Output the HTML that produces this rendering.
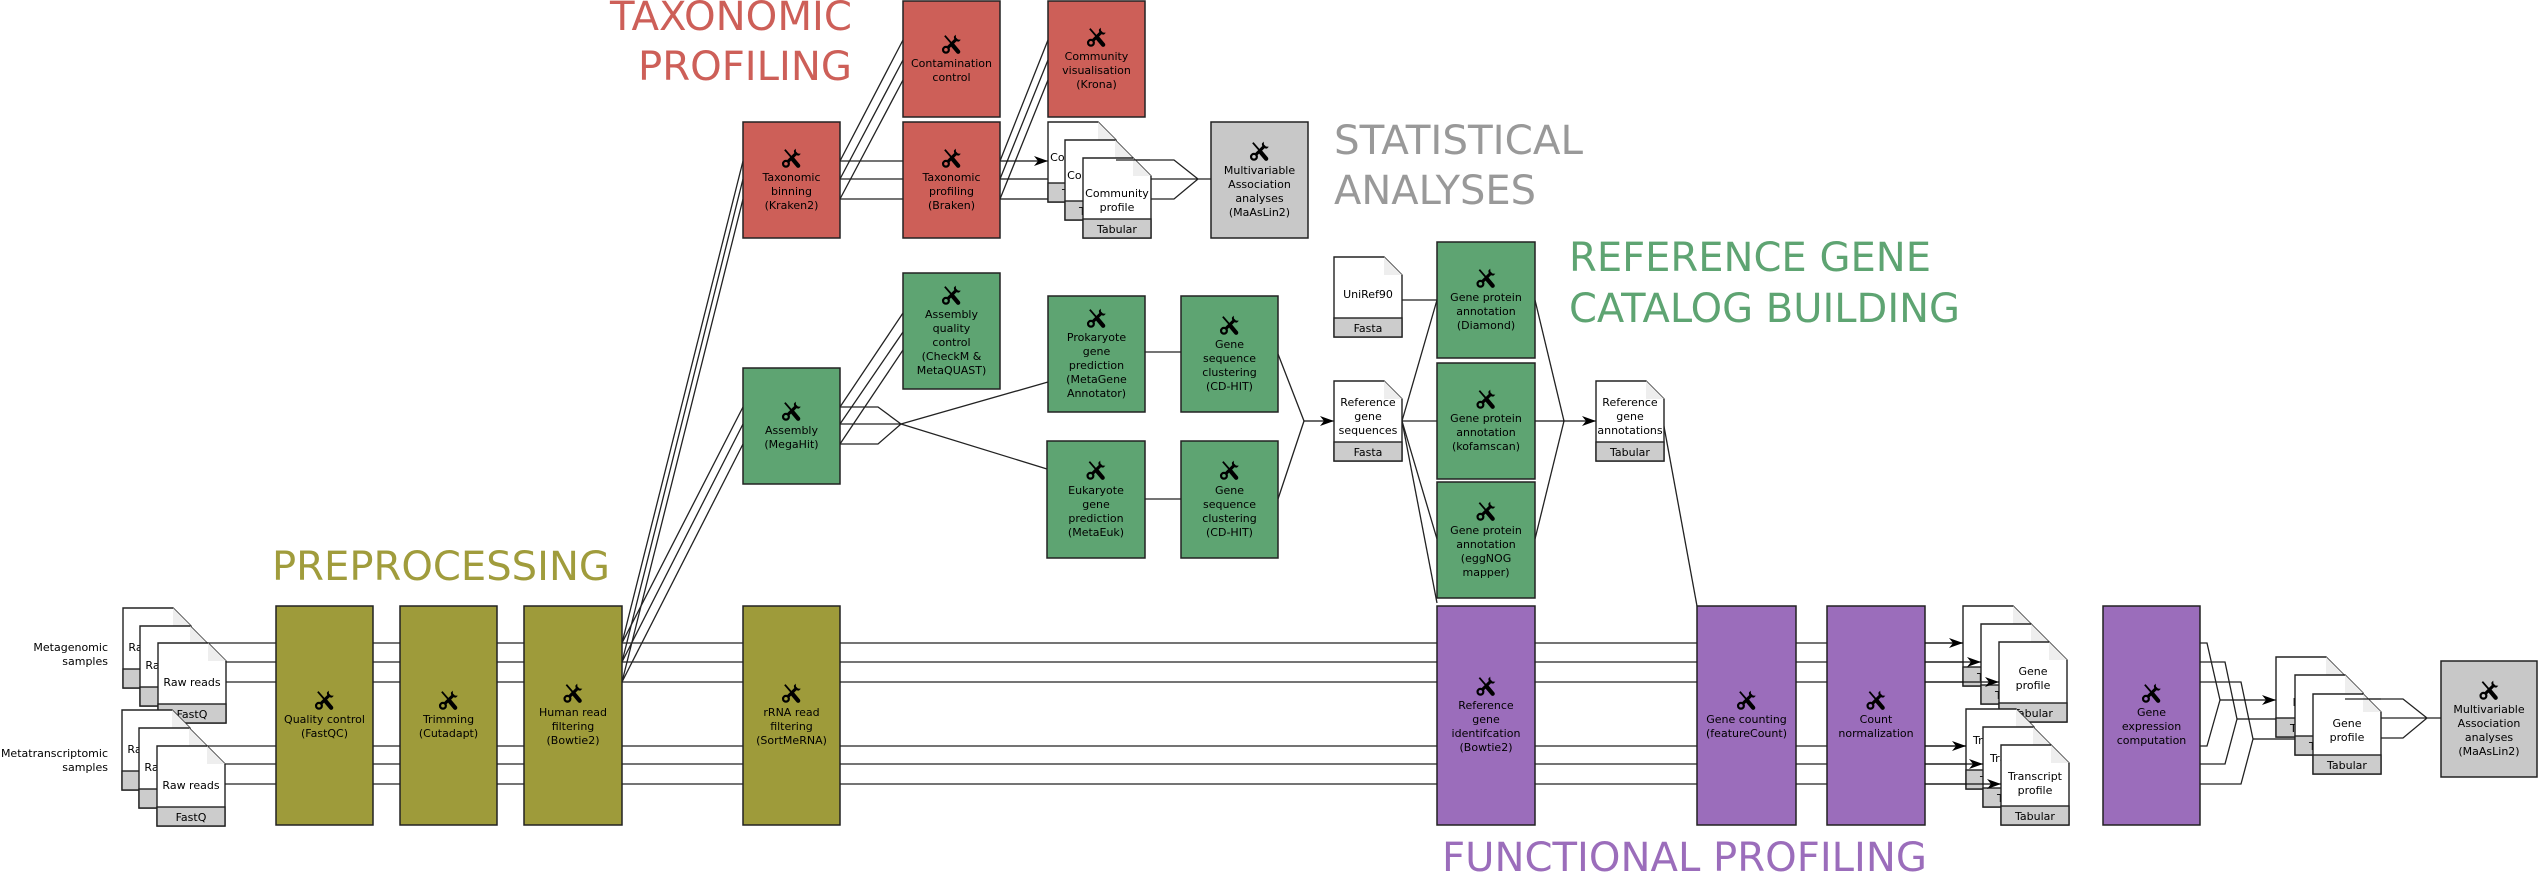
<!DOCTYPE html>
<html><head><meta charset="utf-8"><style>html,body{margin:0;padding:0;background:#fff}svg{display:block}</style></head>
<body>
<svg xmlns="http://www.w3.org/2000/svg" width="2538" height="873" viewBox="0 0 2538 873" font-family="'DejaVu Sans','Liberation Sans',sans-serif">
<defs>
<marker id="a" viewBox="0 0 14 10" refX="14" refY="5" markerWidth="14" markerHeight="10" markerUnits="userSpaceOnUse" orient="auto"><path d="M0,0 L14,5 L0,10 L4,5 z" fill="#000"/></marker>
<symbol id="t" viewBox="1.5 1 17 18">
<line x1="4" y1="2.5" x2="10.5" y2="10" stroke="#000" stroke-width="1.6"/>
<line x1="11" y1="11" x2="16" y2="17" stroke="#000" stroke-width="3.8" stroke-linecap="round"/>
<line x1="13.5" y1="6.5" x2="6.5" y2="13.5" stroke="#000" stroke-width="2.8"/>
<circle cx="5" cy="15.2" r="2.6" fill="none" stroke="#000" stroke-width="2"/>
<path d="M12.2,3.2 A4,4 0 0 0 16.8,7.8 L18.4,6.2 L15.8,6 L14,4.2 L13.8,1.6 Z" fill="#000"/>
</symbol>
</defs>

<!-- titles -->
<g font-size="40" font-family="'DejaVu Sans','Liberation Sans',sans-serif">
<text x="852" y="30" text-anchor="end" fill="#cd5f58" textLength="242" lengthAdjust="spacingAndGlyphs">TAXONOMIC</text>
<text x="852" y="80" text-anchor="end" fill="#cd5f58" textLength="214" lengthAdjust="spacingAndGlyphs">PROFILING</text>
<text x="1334" y="154" fill="#999" textLength="249" lengthAdjust="spacingAndGlyphs">STATISTICAL</text>
<text x="1334" y="204" fill="#999" textLength="202" lengthAdjust="spacingAndGlyphs">ANALYSES</text>
<text x="1569" y="271" fill="#5ea472" textLength="362" lengthAdjust="spacingAndGlyphs">REFERENCE GENE</text>
<text x="1569" y="322" fill="#5ea472" textLength="391" lengthAdjust="spacingAndGlyphs">CATALOG BUILDING</text>
<text x="272" y="580" fill="#a09c3c" textLength="338" lengthAdjust="spacingAndGlyphs">PREPROCESSING</text>
<text x="1442" y="871" fill="#9b6dbb" textLength="485" lengthAdjust="spacingAndGlyphs">FUNCTIONAL PROFILING</text>
</g>

<g font-size="11" fill="#000">
<text x="108" y="651" text-anchor="end">Metagenomic</text>
<text x="108" y="665" text-anchor="end">samples</text>
<text x="108" y="757" text-anchor="end">Metatranscriptomic</text>
<text x="108" y="771" text-anchor="end">samples</text>
</g>

<!-- connectors -->
<g stroke="#222" stroke-width="1.3" fill="none">
<line x1="130" y1="643" x2="1963" y2="643"/>
<line x1="150" y1="662" x2="1981" y2="662"/>
<line x1="170" y1="682" x2="1999" y2="682"/>
<line x1="130" y1="746" x2="1966" y2="746"/>
<line x1="150" y1="764" x2="1983" y2="764"/>
<line x1="170" y1="784" x2="2001" y2="784"/>
<line x1="622" y1="643" x2="743" y2="161"/>
<line x1="622" y1="662" x2="743" y2="179"/>
<line x1="622" y1="682" x2="743" y2="199"/>
<line x1="622" y1="643" x2="743" y2="407"/>
<line x1="622" y1="662" x2="743" y2="424"/>
<line x1="622" y1="682" x2="743" y2="444"/>
<line x1="840" y1="161" x2="903" y2="161"/>
<line x1="840" y1="179" x2="903" y2="179"/>
<line x1="840" y1="199" x2="903" y2="199"/>
<line x1="840" y1="161" x2="903" y2="40"/>
<line x1="840" y1="179" x2="903" y2="60"/>
<line x1="840" y1="199" x2="903" y2="80"/>
<line x1="1000" y1="161" x2="1048" y2="40"/>
<line x1="1000" y1="179" x2="1048" y2="60"/>
<line x1="1000" y1="199" x2="1048" y2="80"/>
<path d="M1116,160 H1174 L1198,179 M1150,179 H1211 M1150,199 H1174 L1198,179"/>
<line x1="840" y1="407" x2="903" y2="313"/>
<line x1="840" y1="424" x2="903" y2="332"/>
<line x1="840" y1="444" x2="903" y2="350"/>
<path d="M840,407 H878 L901,424 M840,424 H901 M840,444 H878 L901,424"/>
<line x1="901" y1="424" x2="1048" y2="382"/>
<line x1="901" y1="424" x2="1047" y2="469"/>
<line x1="1145" y1="352" x2="1181" y2="352"/>
<line x1="1145" y1="499" x2="1181" y2="499"/>
<line x1="1278" y1="354" x2="1304" y2="421"/>
<line x1="1278" y1="499" x2="1304" y2="421"/>
<line x1="1402" y1="300" x2="1437" y2="300"/>
<line x1="1402" y1="421" x2="1437" y2="300"/>
<line x1="1402" y1="421" x2="1437" y2="421"/>
<line x1="1402" y1="421" x2="1437" y2="539"/>
<line x1="1402" y1="421" x2="1437" y2="603"/>
<line x1="1535" y1="300" x2="1564" y2="421"/>
<line x1="1535" y1="539" x2="1564" y2="421"/>
<line x1="1663" y1="421" x2="1697" y2="606"/>
<path d="M2200,643 H2207 L2220,700 M2200,746 H2207 L2220,700"/>
<path d="M2200,662 H2225 L2237,719 M2200,764 H2225 L2237,719"/>
<path d="M2200,682 H2241 L2253,739 M2200,784 H2241 L2253,739"/>
<path d="M2345,699 H2403 L2427,718 M2380,718 H2441 M2380,738 H2403 L2427,718"/>
</g>

<g stroke="#111" stroke-width="1.3" marker-end="url(#a)">
<line x1="1000" y1="161" x2="1048" y2="161"/>
<line x1="1000" y1="179" x2="1065" y2="179"/>
<line x1="1000" y1="199" x2="1083" y2="199"/>
<line x1="1304" y1="421" x2="1334" y2="421"/>
<line x1="1535" y1="421" x2="1596" y2="421"/>
<line x1="2220" y1="700" x2="2276" y2="700"/>
<line x1="2237" y1="719" x2="2295" y2="719"/>
<line x1="2253" y1="739" x2="2313" y2="739"/>
</g>

<g stroke="#222" stroke-width="1.5">
<rect x="276" y="606" width="97" height="219" fill="#9e9b3a"/>
<rect x="400" y="606" width="97" height="219" fill="#9e9b3a"/>
<rect x="524" y="606" width="98" height="219" fill="#9e9b3a"/>
<rect x="743" y="606" width="97" height="219" fill="#9e9b3a"/>
<rect x="743" y="122" width="97" height="116" fill="#cd5f58"/>
<rect x="903" y="1" width="97" height="116" fill="#cd5f58"/>
<rect x="903" y="122" width="97" height="116" fill="#cd5f58"/>
<rect x="1048" y="1" width="97" height="116" fill="#cd5f58"/>
<rect x="1211" y="122" width="97" height="116" fill="#c8c8c8"/>
<rect x="2441" y="661" width="96" height="116" fill="#c8c8c8"/>
<rect x="743" y="368" width="97" height="116" fill="#5ea472"/>
<rect x="903" y="273" width="97" height="116" fill="#5ea472"/>
<rect x="1048" y="296" width="97" height="116" fill="#5ea472"/>
<rect x="1181" y="296" width="97" height="116" fill="#5ea472"/>
<rect x="1047" y="441" width="98" height="117" fill="#5ea472"/>
<rect x="1181" y="441" width="97" height="117" fill="#5ea472"/>
<rect x="1437" y="242" width="98" height="116" fill="#5ea472"/>
<rect x="1437" y="363" width="98" height="116" fill="#5ea472"/>
<rect x="1437" y="482" width="98" height="116" fill="#5ea472"/>
<rect x="1437" y="606" width="98" height="219" fill="#9b6dbb"/>
<rect x="1697" y="606" width="99" height="219" fill="#9b6dbb"/>
<rect x="1827" y="606" width="98" height="219" fill="#9b6dbb"/>
<rect x="2103" y="606" width="97" height="219" fill="#9b6dbb"/>
</g>

<use href="#t" x="314.5" y="690" width="20" height="20"/>
<use href="#t" x="438.5" y="690" width="20" height="20"/>
<use href="#t" x="563" y="683" width="20" height="20"/>
<use href="#t" x="781.5" y="683" width="20" height="20"/>
<use href="#t" x="781.5" y="148" width="20" height="20"/>
<use href="#t" x="941.5" y="34" width="20" height="20"/>
<use href="#t" x="941.5" y="148" width="20" height="20"/>
<use href="#t" x="1086.5" y="27" width="20" height="20"/>
<use href="#t" x="1249.5" y="141" width="20" height="20"/>
<use href="#t" x="2479" y="680" width="20" height="20"/>
<use href="#t" x="781.5" y="401" width="20" height="20"/>
<use href="#t" x="941.5" y="285" width="20" height="20"/>
<use href="#t" x="1086.5" y="308" width="20" height="20"/>
<use href="#t" x="1219.5" y="315" width="20" height="20"/>
<use href="#t" x="1086" y="460" width="20" height="20"/>
<use href="#t" x="1219.5" y="460" width="20" height="20"/>
<use href="#t" x="1476" y="268" width="20" height="20"/>
<use href="#t" x="1476" y="389" width="20" height="20"/>
<use href="#t" x="1476" y="501" width="20" height="20"/>
<use href="#t" x="1476" y="676" width="20" height="20"/>
<use href="#t" x="1736.5" y="690" width="20" height="20"/>
<use href="#t" x="1866" y="690" width="20" height="20"/>
<use href="#t" x="2141.5" y="683" width="20" height="20"/>

<g font-size="11" text-anchor="middle" fill="#000">
<text x="324.5" y="723">Quality control</text><text x="324.5" y="737">(FastQC)</text>
<text x="448.5" y="723">Trimming</text><text x="448.5" y="737">(Cutadapt)</text>
<text x="573" y="716">Human read</text><text x="573" y="730">filtering</text><text x="573" y="744">(Bowtie2)</text>
<text x="791.5" y="716">rRNA read</text><text x="791.5" y="730">filtering</text><text x="791.5" y="744">(SortMeRNA)</text>
<text x="791.5" y="181">Taxonomic</text><text x="791.5" y="195">binning</text><text x="791.5" y="209">(Kraken2)</text>
<text x="951.5" y="67">Contamination</text><text x="951.5" y="81">control</text>
<text x="951.5" y="181">Taxonomic</text><text x="951.5" y="195">profiling</text><text x="951.5" y="209">(Braken)</text>
<text x="1096.5" y="60">Community</text><text x="1096.5" y="74">visualisation</text><text x="1096.5" y="88">(Krona)</text>
<text x="1259.5" y="174">Multivariable</text><text x="1259.5" y="188">Association</text><text x="1259.5" y="202">analyses</text><text x="1259.5" y="216">(MaAsLin2)</text>
<text x="2489" y="713">Multivariable</text><text x="2489" y="727">Association</text><text x="2489" y="741">analyses</text><text x="2489" y="755">(MaAsLin2)</text>
<text x="791.5" y="434">Assembly</text><text x="791.5" y="448">(MegaHit)</text>
<text x="951.5" y="318">Assembly</text><text x="951.5" y="332">quality</text><text x="951.5" y="346">control</text><text x="951.5" y="360">(CheckM &amp;</text><text x="951.5" y="374">MetaQUAST)</text>
<text x="1096.5" y="341">Prokaryote</text><text x="1096.5" y="355">gene</text><text x="1096.5" y="369">prediction</text><text x="1096.5" y="383">(MetaGene</text><text x="1096.5" y="397">Annotator)</text>
<text x="1229.5" y="348">Gene</text><text x="1229.5" y="362">sequence</text><text x="1229.5" y="376">clustering</text><text x="1229.5" y="390">(CD-HIT)</text>
<text x="1096" y="494">Eukaryote</text><text x="1096" y="508">gene</text><text x="1096" y="522">prediction</text><text x="1096" y="536">(MetaEuk)</text>
<text x="1229.5" y="494">Gene</text><text x="1229.5" y="508">sequence</text><text x="1229.5" y="522">clustering</text><text x="1229.5" y="536">(CD-HIT)</text>
<text x="1486" y="301">Gene protein</text><text x="1486" y="315">annotation</text><text x="1486" y="329">(Diamond)</text>
<text x="1486" y="422">Gene protein</text><text x="1486" y="436">annotation</text><text x="1486" y="450">(kofamscan)</text>
<text x="1486" y="534">Gene protein</text><text x="1486" y="548">annotation</text><text x="1486" y="562">(eggNOG</text><text x="1486" y="576">mapper)</text>
<text x="1486" y="709">Reference</text><text x="1486" y="723">gene</text><text x="1486" y="737">identifcation</text><text x="1486" y="751">(Bowtie2)</text>
<text x="1746.5" y="723">Gene counting</text><text x="1746.5" y="737">(featureCount)</text>
<text x="1876" y="723">Count</text><text x="1876" y="737">normalization</text>
<text x="2151.5" y="716">Gene</text><text x="2151.5" y="730">expression</text><text x="2151.5" y="744">computation</text>
</g>

<g stroke="#222" stroke-width="1.4" font-size="11" text-anchor="middle">
<g transform="translate(123,608)"><path d="M0,0 H50 L68,18 V80 H0 Z" fill="#fff"/><path d="M50,0 L68,18 H50 Z" fill="#eee" stroke="none"/><rect x="0" y="61" width="68" height="19" fill="#ccc"/><text x="34" y="43" stroke="none">Raw reads</text><text x="34" y="75" stroke="none">FastQ</text></g>
<g transform="translate(140,626)"><path d="M0,0 H50 L68,18 V80 H0 Z" fill="#fff"/><path d="M50,0 L68,18 H50 Z" fill="#eee" stroke="none"/><rect x="0" y="61" width="68" height="19" fill="#ccc"/><text x="34" y="43" stroke="none">Raw reads</text><text x="34" y="75" stroke="none">FastQ</text></g>
<g transform="translate(158,643)"><path d="M0,0 H50 L68,18 V80 H0 Z" fill="#fff"/><path d="M50,0 L68,18 H50 Z" fill="#eee" stroke="none"/><rect x="0" y="61" width="68" height="19" fill="#ccc"/><text x="34" y="43" stroke="none">Raw reads</text><text x="34" y="75" stroke="none">FastQ</text></g>
<g transform="translate(122,710)"><path d="M0,0 H50 L68,18 V80 H0 Z" fill="#fff"/><path d="M50,0 L68,18 H50 Z" fill="#eee" stroke="none"/><rect x="0" y="61" width="68" height="19" fill="#ccc"/><text x="34" y="43" stroke="none">Raw reads</text><text x="34" y="75" stroke="none">FastQ</text></g>
<g transform="translate(139,728)"><path d="M0,0 H50 L68,18 V80 H0 Z" fill="#fff"/><path d="M50,0 L68,18 H50 Z" fill="#eee" stroke="none"/><rect x="0" y="61" width="68" height="19" fill="#ccc"/><text x="34" y="43" stroke="none">Raw reads</text><text x="34" y="75" stroke="none">FastQ</text></g>
<g transform="translate(157,746)"><path d="M0,0 H50 L68,18 V80 H0 Z" fill="#fff"/><path d="M50,0 L68,18 H50 Z" fill="#eee" stroke="none"/><rect x="0" y="61" width="68" height="19" fill="#ccc"/><text x="34" y="43" stroke="none">Raw reads</text><text x="34" y="75" stroke="none">FastQ</text></g>
<g transform="translate(1048,122)"><path d="M0,0 H50 L68,18 V80 H0 Z" fill="#fff"/><path d="M50,0 L68,18 H50 Z" fill="#eee" stroke="none"/><rect x="0" y="61" width="68" height="19" fill="#ccc"/><text x="34" y="39" stroke="none">Community</text><text x="34" y="53" stroke="none">profile</text><text x="34" y="75" stroke="none">Tabular</text></g>
<g transform="translate(1065,140)"><path d="M0,0 H50 L68,18 V80 H0 Z" fill="#fff"/><path d="M50,0 L68,18 H50 Z" fill="#eee" stroke="none"/><rect x="0" y="61" width="68" height="19" fill="#ccc"/><text x="34" y="39" stroke="none">Community</text><text x="34" y="53" stroke="none">profile</text><text x="34" y="75" stroke="none">Tabular</text></g>
<g transform="translate(1083,158)"><path d="M0,0 H50 L68,18 V80 H0 Z" fill="#fff"/><path d="M50,0 L68,18 H50 Z" fill="#eee" stroke="none"/><rect x="0" y="61" width="68" height="19" fill="#ccc"/><text x="34" y="39" stroke="none">Community</text><text x="34" y="53" stroke="none">profile</text><text x="34" y="75" stroke="none">Tabular</text></g>
<g transform="translate(1334,257)"><path d="M0,0 H50 L68,18 V80 H0 Z" fill="#fff"/><path d="M50,0 L68,18 H50 Z" fill="#eee" stroke="none"/><rect x="0" y="61" width="68" height="19" fill="#ccc"/><text x="34" y="41" stroke="none">UniRef90</text><text x="34" y="75" stroke="none">Fasta</text></g>
<g transform="translate(1334,381)"><path d="M0,0 H50 L68,18 V80 H0 Z" fill="#fff"/><path d="M50,0 L68,18 H50 Z" fill="#eee" stroke="none"/><rect x="0" y="61" width="68" height="19" fill="#ccc"/><text x="34" y="25" stroke="none">Reference</text><text x="34" y="39" stroke="none">gene</text><text x="34" y="53" stroke="none">sequences</text><text x="34" y="75" stroke="none">Fasta</text></g>
<g transform="translate(1596,381)"><path d="M0,0 H50 L68,18 V80 H0 Z" fill="#fff"/><path d="M50,0 L68,18 H50 Z" fill="#eee" stroke="none"/><rect x="0" y="61" width="68" height="19" fill="#ccc"/><text x="34" y="25" stroke="none">Reference</text><text x="34" y="39" stroke="none">gene</text><text x="34" y="53" stroke="none">annotations</text><text x="34" y="75" stroke="none">Tabular</text></g>
<g transform="translate(1963,606)"><path d="M0,0 H50 L68,18 V80 H0 Z" fill="#fff"/><path d="M50,0 L68,18 H50 Z" fill="#eee" stroke="none"/><rect x="0" y="61" width="68" height="19" fill="#ccc"/><text x="34" y="33" stroke="none">Gene</text><text x="34" y="47" stroke="none">profile</text><text x="34" y="75" stroke="none">Tabular</text></g>
<g transform="translate(1981,624)"><path d="M0,0 H50 L68,18 V80 H0 Z" fill="#fff"/><path d="M50,0 L68,18 H50 Z" fill="#eee" stroke="none"/><rect x="0" y="61" width="68" height="19" fill="#ccc"/><text x="34" y="33" stroke="none">Gene</text><text x="34" y="47" stroke="none">profile</text><text x="34" y="75" stroke="none">Tabular</text></g>
<g transform="translate(1999,642)"><path d="M0,0 H50 L68,18 V80 H0 Z" fill="#fff"/><path d="M50,0 L68,18 H50 Z" fill="#eee" stroke="none"/><rect x="0" y="61" width="68" height="19" fill="#ccc"/><text x="34" y="33" stroke="none">Gene</text><text x="34" y="47" stroke="none">profile</text><text x="34" y="75" stroke="none">Tabular</text></g>
<g transform="translate(1966,709)"><path d="M0,0 H50 L68,18 V80 H0 Z" fill="#fff"/><path d="M50,0 L68,18 H50 Z" fill="#eee" stroke="none"/><rect x="0" y="61" width="68" height="19" fill="#ccc"/><text x="34" y="35" stroke="none">Transcript</text><text x="34" y="49" stroke="none">profile</text><text x="34" y="75" stroke="none">Tabular</text></g>
<g transform="translate(1983,727)"><path d="M0,0 H50 L68,18 V80 H0 Z" fill="#fff"/><path d="M50,0 L68,18 H50 Z" fill="#eee" stroke="none"/><rect x="0" y="61" width="68" height="19" fill="#ccc"/><text x="34" y="35" stroke="none">Transcript</text><text x="34" y="49" stroke="none">profile</text><text x="34" y="75" stroke="none">Tabular</text></g>
<g transform="translate(2001,745)"><path d="M0,0 H50 L68,18 V80 H0 Z" fill="#fff"/><path d="M50,0 L68,18 H50 Z" fill="#eee" stroke="none"/><rect x="0" y="61" width="68" height="19" fill="#ccc"/><text x="34" y="35" stroke="none">Transcript</text><text x="34" y="49" stroke="none">profile</text><text x="34" y="75" stroke="none">Tabular</text></g>
<g transform="translate(2276,657)"><path d="M0,0 H50 L68,18 V80 H0 Z" fill="#fff"/><path d="M50,0 L68,18 H50 Z" fill="#eee" stroke="none"/><rect x="0" y="61" width="68" height="19" fill="#ccc"/><text x="34" y="33" stroke="none">Gene</text><text x="34" y="47" stroke="none">profile</text><text x="34" y="75" stroke="none">Tabular</text></g>
<g transform="translate(2295,675)"><path d="M0,0 H50 L68,18 V80 H0 Z" fill="#fff"/><path d="M50,0 L68,18 H50 Z" fill="#eee" stroke="none"/><rect x="0" y="61" width="68" height="19" fill="#ccc"/><text x="34" y="33" stroke="none">Gene</text><text x="34" y="47" stroke="none">profile</text><text x="34" y="75" stroke="none">Tabular</text></g>
<g transform="translate(2313,694)"><path d="M0,0 H50 L68,18 V80 H0 Z" fill="#fff"/><path d="M50,0 L68,18 H50 Z" fill="#eee" stroke="none"/><rect x="0" y="61" width="68" height="19" fill="#ccc"/><text x="34" y="33" stroke="none">Gene</text><text x="34" y="47" stroke="none">profile</text><text x="34" y="75" stroke="none">Tabular</text></g>
</g>

<g stroke="#222" stroke-width="1.3" fill="none">
<line x1="1116" y1="160" x2="1150" y2="160"/>
<line x1="2345" y1="699" x2="2381" y2="699"/>
</g>
<g stroke="#111" stroke-width="1.3" marker-end="url(#a)">
<line x1="1925" y1="643" x2="1963" y2="643"/>
<line x1="1925" y1="662" x2="1981" y2="662"/>
<line x1="1925" y1="682" x2="1999" y2="682"/>
<line x1="1925" y1="746" x2="1966" y2="746"/>
<line x1="1925" y1="764" x2="1983" y2="764"/>
<line x1="1925" y1="784" x2="2001" y2="784"/>
</g>
</svg>
</body></html>
